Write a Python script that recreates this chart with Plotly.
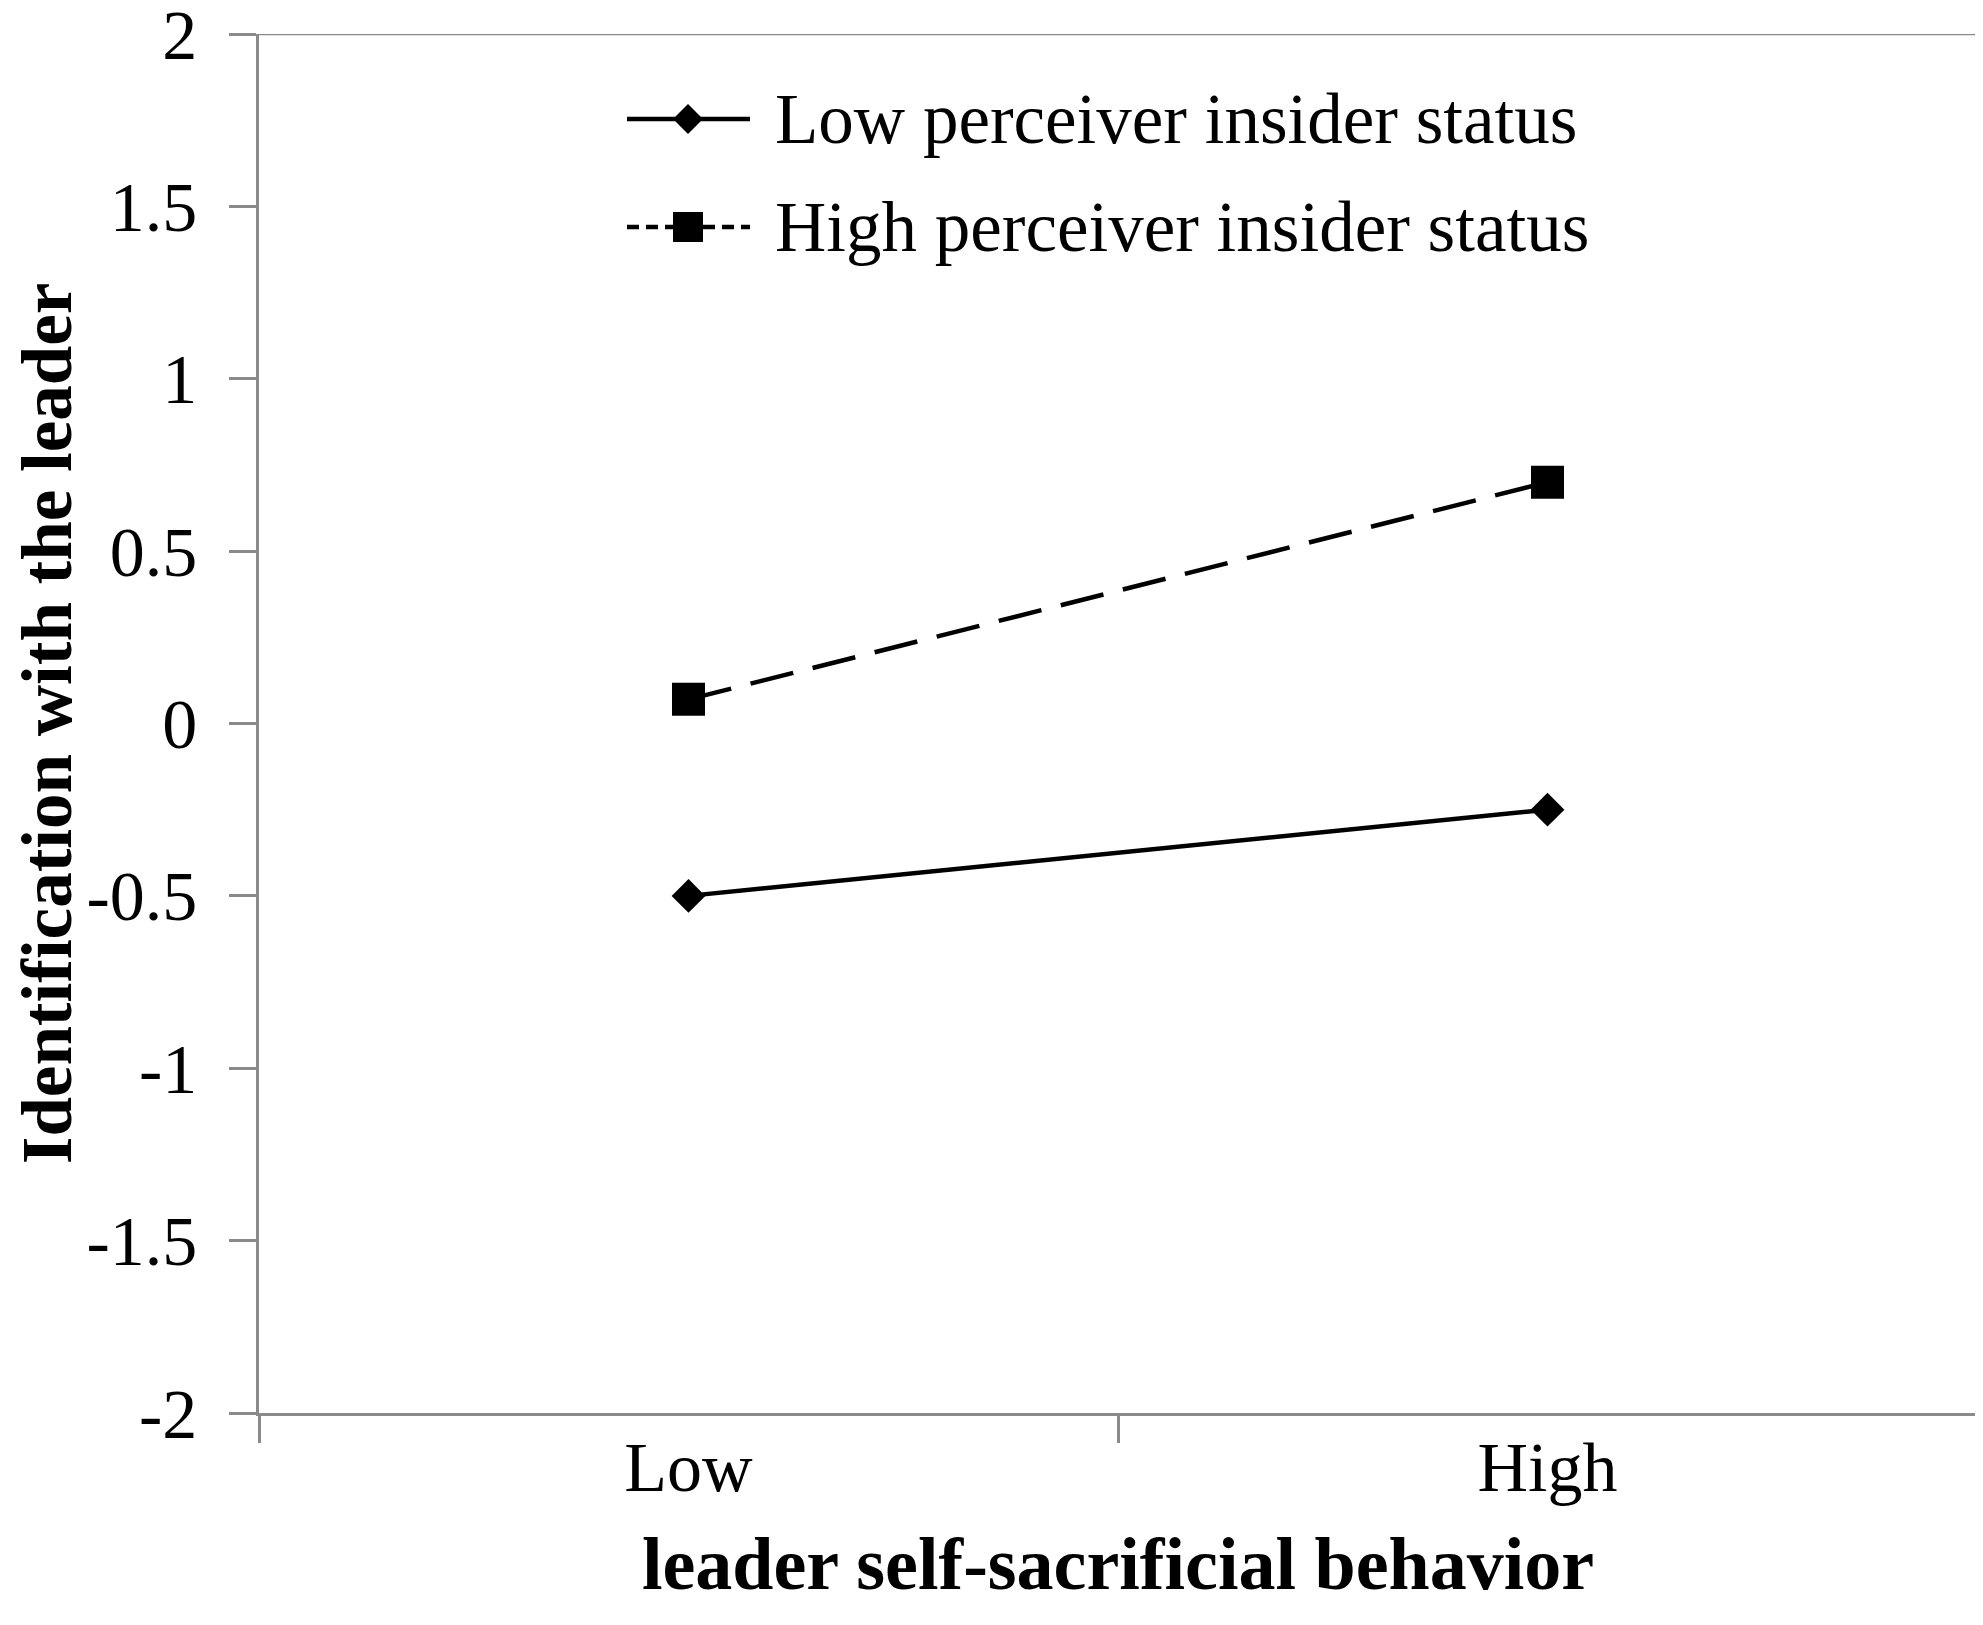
import plotly.graph_objects as go

# data
categories = ["Low", "High"]
low_insider = [-0.5, -0.25]
high_insider = [0.07, 0.70]
y_ticks = [2, 1.5, 1, 0.5, 0, -0.5, -1, -1.5, -2]
y_tick_text = ["2", "1.5", "1", "0.5", "0", "-0.5", "-1", "-1.5", "-2"]
series_names = ["Low perceiver insider status", "High perceiver insider status"]

W, H = 1983, 1625
OFF = 8  # page body margin
L, R, T, B = 251, 14, 26, 220
FONT = "Liberation Serif, Times New Roman, serif"
AXIS_GREY = "#8a8a8a"

fig = go.Figure()

fig.add_trace(go.Scatter(
    x=categories, y=low_insider, mode="lines+markers", name=series_names[0],
    line=dict(color="black", width=4.5),
    marker=dict(symbol="diamond", size=26, color="black"),
    showlegend=False))
fig.add_trace(go.Scatter(
    x=categories, y=high_insider, mode="lines+markers", name=series_names[1],
    line=dict(color="black", width=4.5, dash="44px,20px"),
    marker=dict(symbol="square", size=33, color="black"),
    showlegend=False))

# hand-made legend on a hidden overlay axis (plotly's sample line is too short)
def px_x(p):
    return (p - OFF - L) / (W - L - R)

def px_y(p):
    return (H - B - (p - OFF)) / (H - T - B)

leg_x = [px_x(627), px_x(688), px_x(750)]
leg_rows = [px_y(119), px_y(227)]
leg_style = [
    dict(line=dict(color="black", width=4.5), symbol="diamond", size=23),
    dict(line=dict(color="black", width=4.5, dash="12px,7px"), symbol="square", size=30),
]
for row, st, name in zip(leg_rows, leg_style, series_names):
    fig.add_trace(go.Scatter(
        x=[leg_x[0], leg_x[2]], y=[row, row], mode="lines",
        line=st["line"], xaxis="x2", yaxis="y2", showlegend=False, hoverinfo="skip"))
    fig.add_trace(go.Scatter(
        x=[leg_x[1]], y=[row], mode="markers",
        marker=dict(symbol=st["symbol"], size=st["size"], color="black"),
        xaxis="x2", yaxis="y2", showlegend=False, hoverinfo="skip"))
    fig.add_annotation(
        x=px_x(773), y=row, xref="x2", yref="y2", text=name, showarrow=False,
        xanchor="left", yanchor="middle", font=dict(family=FONT, size=71, color="black"))

fig.update_layout(
    width=W, height=H,
    margin=dict(l=L, r=R, t=T, b=B),
    paper_bgcolor="white", plot_bgcolor="white",
    font=dict(family=FONT, color="black"),
    xaxis=dict(
        type="category", range=[-0.5, 1.5], tickson="boundaries", automargin=False,
        ticks="outside", ticklen=27, tickwidth=2.5, tickcolor=AXIS_GREY,
        ticklabelstandoff=-9,
        showline=True, linecolor=AXIS_GREY, linewidth=2.5,
        showgrid=False, zeroline=False,
        tickfont=dict(family=FONT, size=70, color="black"),
        title=dict(text="<b>leader self-sacrificial behavior</b>", standoff=33,
                   font=dict(family=FONT, size=74, color="black"))),
    yaxis=dict(
        range=[-2, 2], tickvals=y_ticks, ticktext=y_tick_text, automargin=False,
        ticks="outside", ticklen=27, tickwidth=2.5, tickcolor=AXIS_GREY,
        ticklabelstandoff=18, ticklabeloverflow="allow",
        showline=True, linecolor=AXIS_GREY, linewidth=2.5,
        showgrid=False, zeroline=False,
        tickfont=dict(family=FONT, size=70, color="black"),
        title=dict(text="<b>Identification with the leader</b>", standoff=25,
                   font=dict(family=FONT, size=71, color="black"))),
    xaxis2=dict(overlaying="x", range=[0, 1], visible=False, fixedrange=True),
    yaxis2=dict(overlaying="y", range=[0, 1], visible=False, fixedrange=True),
    shapes=[dict(type="line", xref="paper", yref="y", x0=-27 / (W - L - R), x1=1,
                 y0=2, y1=2, line=dict(color=AXIS_GREY, width=2.5))],
)

fig.write_html("out.html")
